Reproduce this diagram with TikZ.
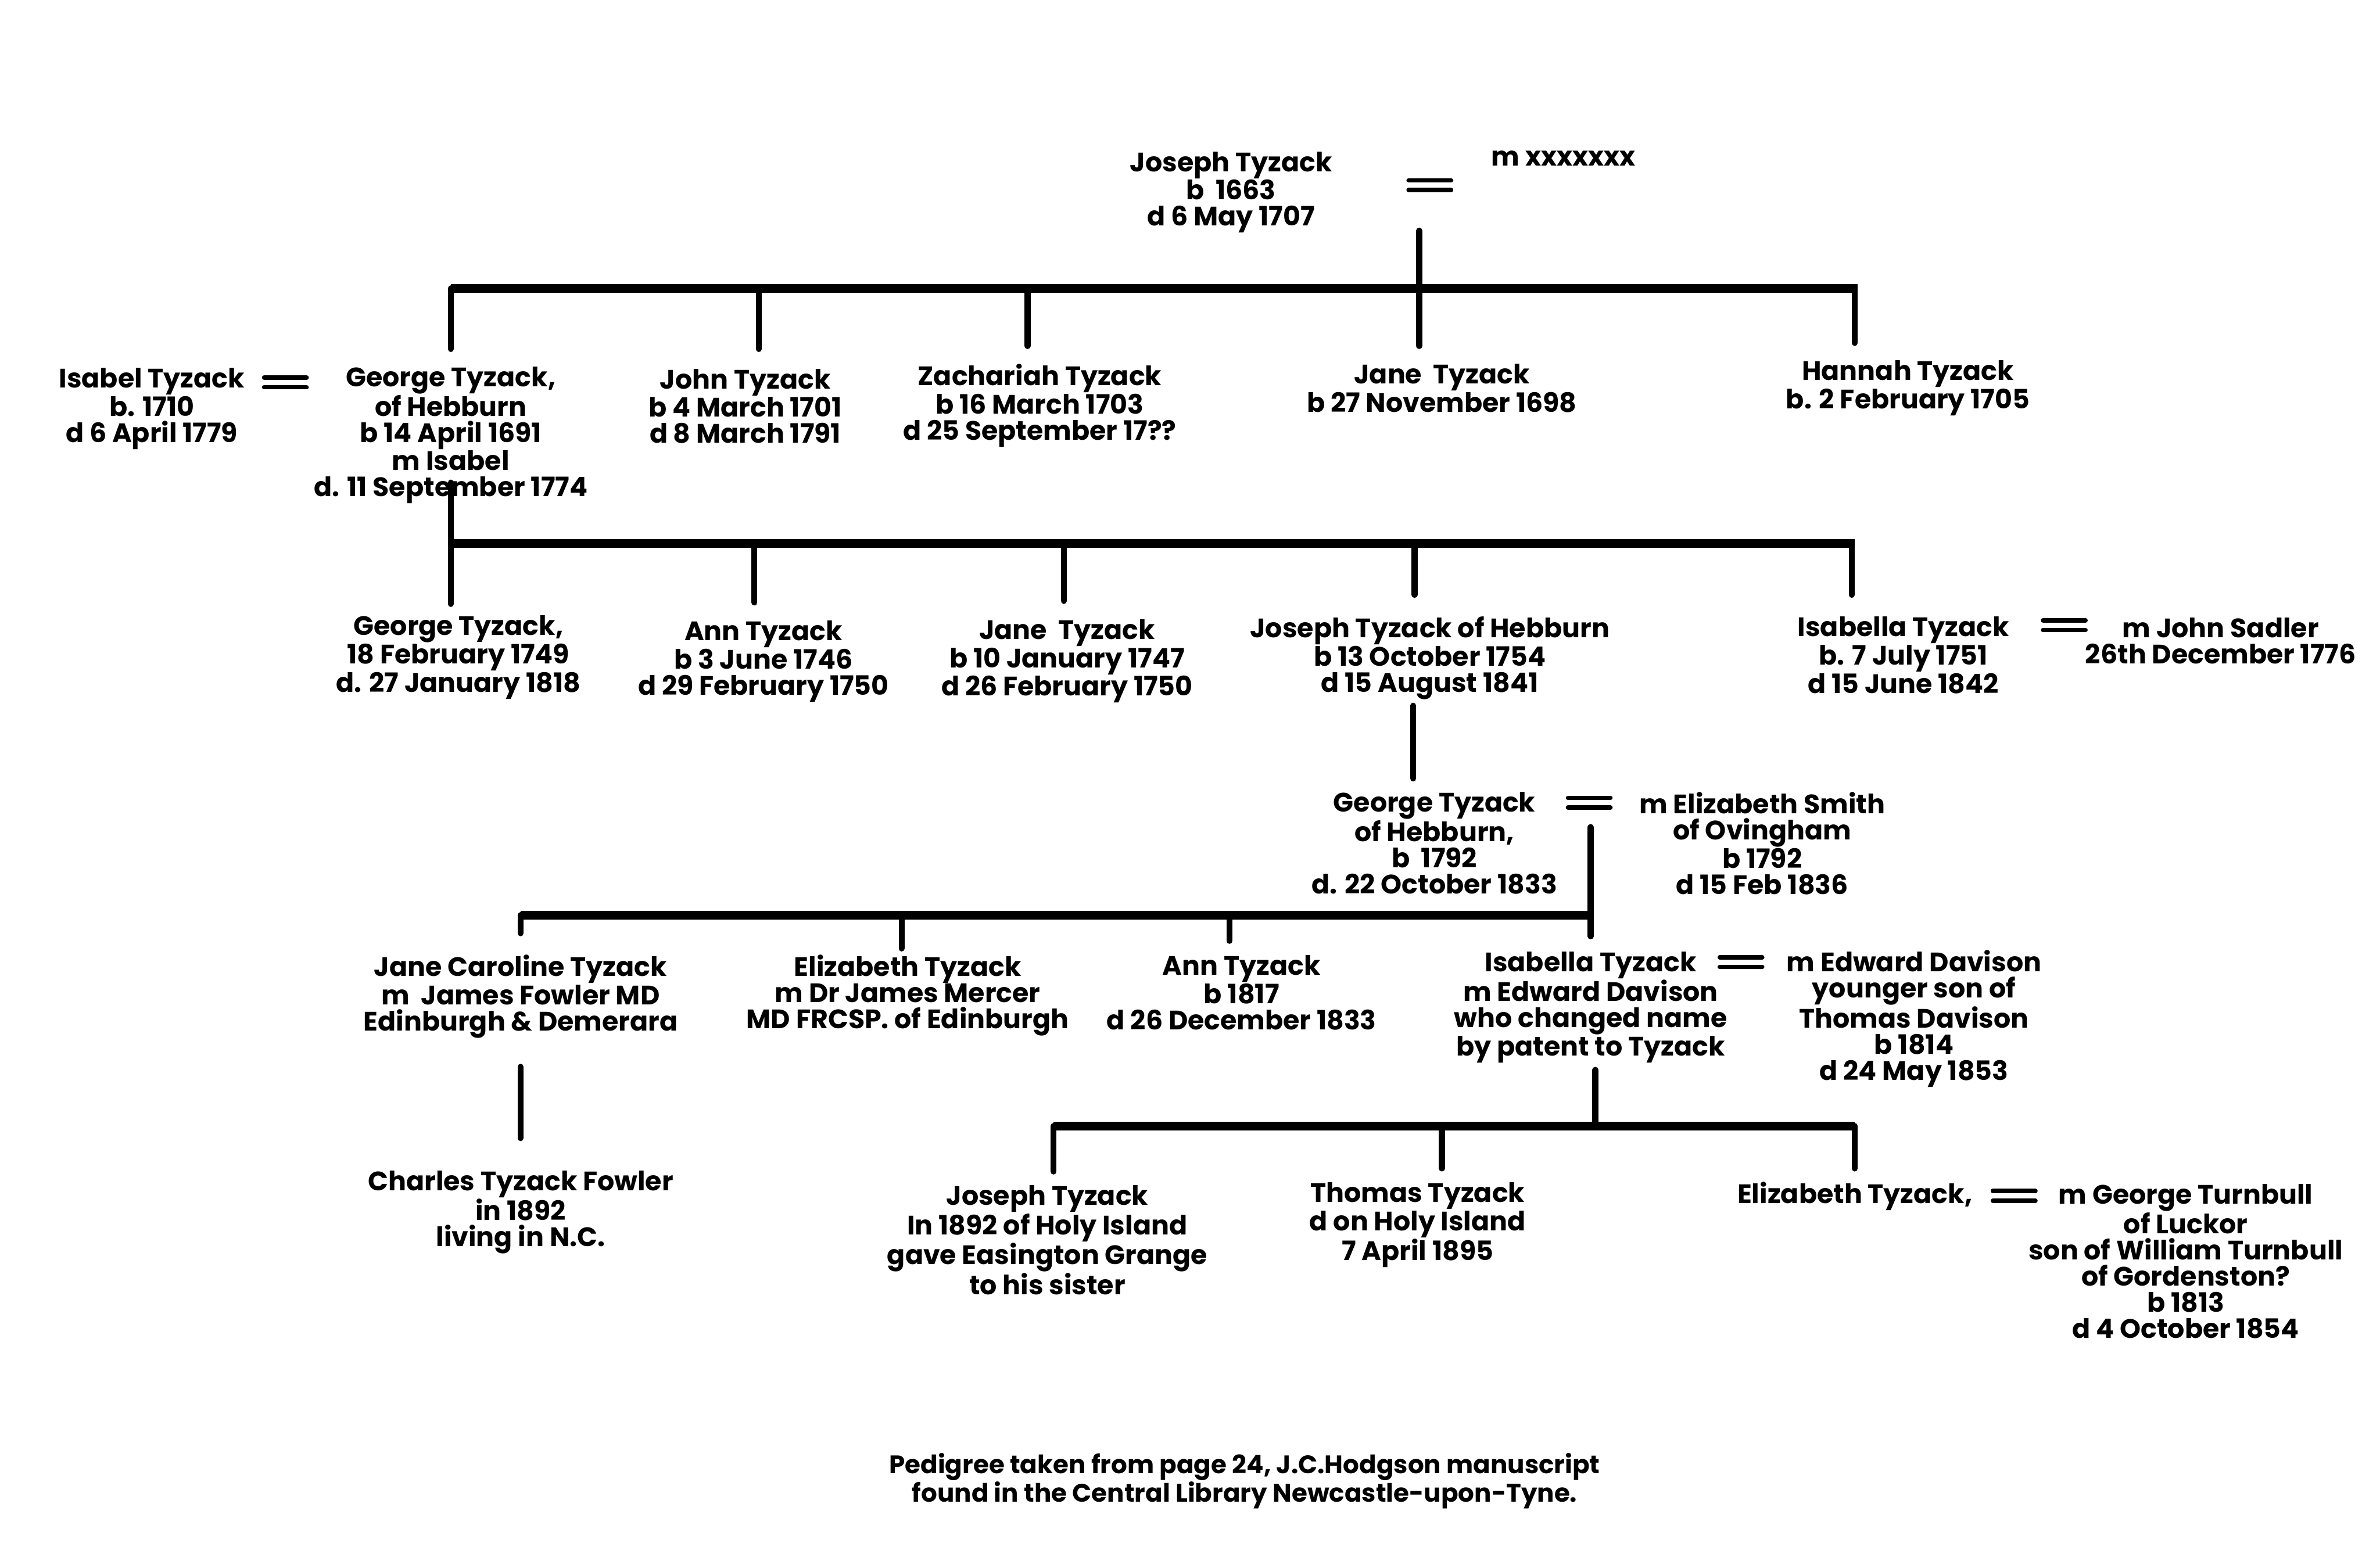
\documentclass[tikz,border=0pt]{standalone}
\usepackage{fontspec}
\setmainfont{Poppins}
\begin{document}
\begin{tikzpicture}[x=0.04cm,y=-0.04cm,
  person/.style={align=center,inner sep=0pt,yshift=-0.09cm,font=\fontsize{20}{19.6}\selectfont\bfseries},
  note/.style={align=center,inner sep=0pt,font=\fontsize{19}{16.5}\selectfont\bfseries},
  hbar/.style={line width=6.5pt},
  vbar/.style={line width=4.5pt,line cap=round},
  eqsign/.pic={\draw[line width=3.3pt,line cap=round] (-14,-3.2)--(14,-3.2) (-14,3.2)--(14,3.2);}]
\useasboundingbox[fill=white] (0,0) rectangle (1568,1031);

% ---------- generation 1
\node[person] (joseph0) at (811,124.5) {Joseph Tyzack\\b\ \ 1663\\d 6 May 1707};
\node[person] (wife0) at (1030,102) {m xxxxxxx};
\pic at (942,122) {eqsign};
\coordinate (g0) at (935,152);
\coordinate (r1l) at (297,190);
\coordinate (r1r) at (1224,190);
\coordinate (d1a) at (297,230);
\coordinate (d1b) at (500,230);
\coordinate (d1c) at (677,228);
\coordinate (d1d) at (935,228);
\coordinate (d1e) at (1222,226);
\coordinate (u1a) at (297,190);
\coordinate (u1b) at (500,190);
\coordinate (u1c) at (677,190);
\coordinate (u1e) at (1222,190);
\draw[hbar] (r1l) -- (r1r);
\draw[vbar] (g0) -- (d1d);
\draw[vbar] (u1a) -- (d1a);
\draw[vbar] (u1b) -- (d1b);
\draw[vbar] (u1c) -- (d1c);
\draw[vbar] (u1e) -- (d1e);

% ---------- generation 2
\node[person] (isabel) at (100,267) {Isabel Tyzack\\b. 1710\\d 6 April 1779};
\pic at (188,252) {eqsign};
\node[person] (george1) at (297,284.5) {George Tyzack,\\of Hebburn\\b 14 April 1691\\m Isabel\\d. 11 September 1774};
\node[person] (john) at (491,265.5) {John Tyzack\\b 4 March 1701\\d 8 March 1791};
\node[person] (zach) at (685,265) {Zachariah Tyzack\\b 16 March 1703\\d 25 September 17??};
\node[person] (jane1) at (950,253.5) {Jane\ \ Tyzack\\b 27 November 1698};
\node[person] (hannah) at (1257,253.5) {Hannah Tyzack\\b. 2 February 1705};

\coordinate (g1) at (297,318);
\coordinate (r2l) at (297,358);
\coordinate (r2r) at (1222,358);
\coordinate (d2a) at (297,398);
\coordinate (u2b) at (497,358);
\coordinate (d2b) at (497,397);
\coordinate (u2c) at (701,358);
\coordinate (d2c) at (701,396);
\coordinate (u2d) at (932,358);
\coordinate (d2d) at (932,392);
\coordinate (u2e) at (1220,358);
\coordinate (d2e) at (1220,392);
\draw[hbar] (r2l) -- (r2r);
\draw[vbar] (g1) -- (d2a);
\draw[vbar] (u2b) -- (d2b);
\draw[vbar] (u2c) -- (d2c);
\draw[vbar] (u2d) -- (d2d);
\draw[vbar] (u2e) -- (d2e);

% ---------- generation 3
\node[person] (george2) at (302,431) {George Tyzack,\\18 February 1749\\d. 27 January 1818};
\node[person] (ann1) at (503,433.5) {Ann Tyzack\\b 3 June 1746\\d 29 February 1750};
\node[person] (jane2) at (703,433.5) {Jane\ \ Tyzack\\b 10 January 1747\\d 26 February 1750};
\node[person] (joseph2) at (942,431.5) {Joseph Tyzack of Hebburn\\b 13 October 1754\\d 15 August 1841};
\node[person] (isabella1) at (1254,429.5) {Isabella Tyzack\\b. 7 July 1751\\d 15 June 1842};
\pic at (1360,412) {eqsign};
\node[person] (sadler) at (1463,420) {m John Sadler\\26th December 1776};

\coordinate (g2) at (931,465);
\coordinate (g2b) at (931,513);
\draw[vbar] (g2) -- (g2b);

% ---------- generation 4
\node[person] (george3) at (945,553.5) {George Tyzack\\of Hebburn,\\b\ \ 1792\\d. 22 October 1833};
\pic at (1047,529) {eqsign};
\node[person] (smith) at (1161,553.5) {m Elizabeth Smith\\of Ovingham\\b 1792\\d 15 Feb 1836};

\coordinate (g3) at (1048,545);
\coordinate (g3b) at (1048,617);
\coordinate (r4l) at (343,603);
\coordinate (r4r) at (1048,603);
\coordinate (d4a) at (343,615);
\coordinate (u4b) at (594,603);
\coordinate (d4b) at (594,625);
\coordinate (u4c) at (810,603);
\coordinate (d4c) at (810,620);
\draw[hbar] (r4l) -- (r4r);
\draw[vbar] (g3) -- (g3b);
\draw[vbar] (r4l) -- (d4a);
\draw[vbar] (u4b) -- (d4b);
\draw[vbar] (u4c) -- (d4c);

% ---------- generation 5
\node[person] (jcaroline) at (343,654.5) {Jane Caroline Tyzack\\m\ \ James Fowler MD\\Edinburgh \& Demerara};
\node[person] (elizabeth1) at (598,653.5) {Elizabeth Tyzack\\m Dr James Mercer\\MD FRCSP. of Edinburgh};
\node[person] (ann2) at (818,652) {Ann Tyzack\\b 1817\\d 26 December 1833};
\node[person] (isabella2) at (1048,661.5) {Isabella Tyzack\\m Edward Davison\\who changed name\\by patent to Tyzack};
\pic at (1147,634) {eqsign};
\node[person] (davison) at (1261,669) {m Edward Davison\\younger son of\\Thomas Davison\\b 1814\\d 24 May 1853};

\coordinate (g5a) at (343,703);
\coordinate (g5ab) at (343,750);
\draw[vbar] (g5a) -- (g5ab);
\node[person] (charles) at (343,796.5) {Charles Tyzack Fowler\\in 1892\\living in N.C.};

\coordinate (g5) at (1051,705);
\coordinate (r6m) at (1051,742);
\coordinate (r6l) at (694,742);
\coordinate (r6r) at (1222,742);
\coordinate (d6a) at (694,772);
\coordinate (u6b) at (950,742);
\coordinate (d6b) at (950,770);
\coordinate (d6c) at (1222,770);
\draw[hbar] (r6l) -- (r6r);
\draw[vbar] (g5) -- (r6m);
\draw[vbar] (r6l) -- (d6a);
\draw[vbar] (u6b) -- (d6b);
\draw[vbar] (r6r) -- (d6c);

% ---------- generation 6
\node[person] (joseph3) at (690,815) {Joseph Tyzack\\In 1892 of Holy Island\\gave Easington Grange\\to his sister};
\node[person] (thomas) at (934,805) {Thomas Tyzack\\d on Holy Island\\7 April 1895};
\node[person] (elizabeth2) at (1222,786) {Elizabeth Tyzack,};
\pic at (1327,788) {eqsign};
\node[person] (turnbull) at (1440,829) {m George Turnbull\\of Luckor\\son of William Turnbull\\of Gordenston?\\b 1813\\d 4 October 1854};

% ---------- footer
\node[note] (footer) at (820,976) {Pedigree taken from page 24, J.C.Hodgson manuscript\\found in the Central Library Newcastle-upon-Tyne.};
\end{tikzpicture}
\end{document}
